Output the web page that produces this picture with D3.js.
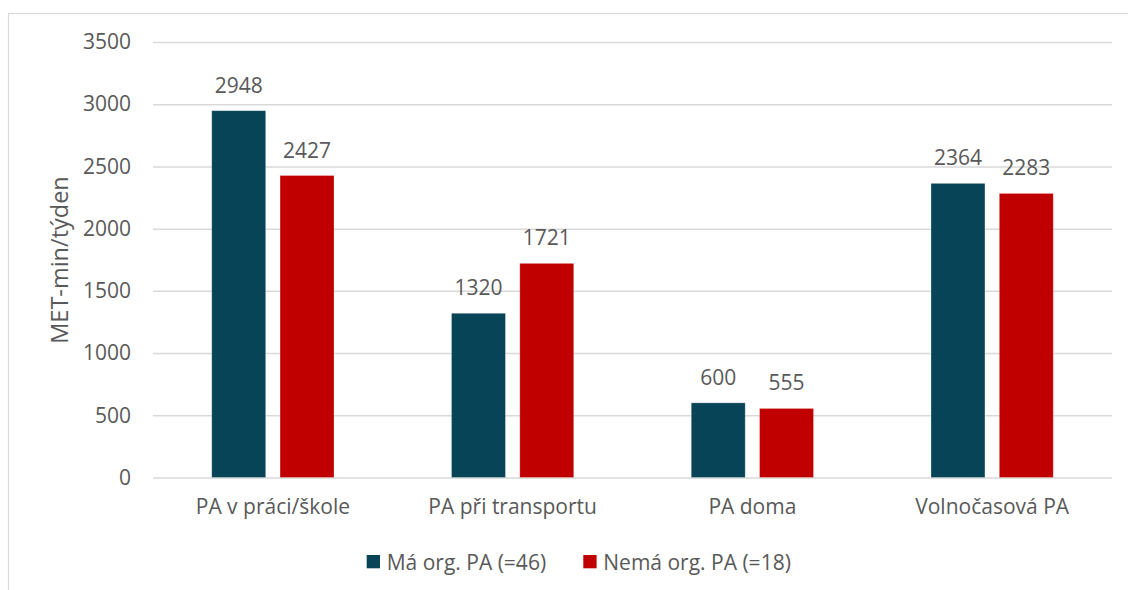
<!DOCTYPE html>
<html>
<head>
<meta charset="utf-8">
<script src="https://cdn.jsdelivr.net/npm/d3@7"></script>
<style>
  body { margin: 0; background: #fff; }
  text { font-family: "Open Sans", sans-serif; fill: #595959; }
</style>
</head>
<body>
<div id="chart"></div>
<script>
var categories = ["PA v práci/škole", "PA při transportu", "PA doma", "Volnočasová PA"];
var seriesNames = ["Má org. PA (=46)", "Nemá org. PA (=18)"];
var maValues = [2948, 1320, 600, 2364];
var nemaValues = [2427, 1721, 555, 2283];
var yTicks = [0, 500, 1000, 1500, 2000, 2500, 3000, 3500];
var colors = ["#084457", "#c00000"];

var width = 1128, height = 590;
var plot = {left: 153, right: 1112, top: 42, bottom: 477.5};

var svg = d3.select("#chart").append("svg")
    .attr("width", width)
    .attr("height", height);

// chart border
svg.append("rect")
    .attr("x", 8.5).attr("y", 13.5)
    .attr("width", 1200).attr("height", 700)
    .attr("fill", "none")
    .attr("stroke", "#d9d9d9")
    .attr("stroke-width", 1.2);

var x0 = d3.scaleBand()
    .domain(categories)
    .range([plot.left, plot.right])
    .padding(0);

var groupW = x0.bandwidth() * 0.51;
var x1 = d3.scaleBand()
    .domain(seriesNames)
    .range([0, groupW])
    .paddingInner(0.21);

var y = d3.scaleLinear()
    .domain([0, 3500])
    .range([plot.bottom, plot.top]);

// grid + tick labels
var yAxis = svg.append("g")
    .attr("class", "axis axis--y")
    .attr("transform", "translate(" + plot.left + ",0)")
    .call(d3.axisLeft(y)
        .tickValues(yTicks)
        .tickFormat(d3.format("d"))
        .tickSize(-(plot.right - plot.left))
        .tickPadding(22));
yAxis.select(".domain").remove();
yAxis.selectAll(".tick line")
    .attr("stroke", "#d9d9d9")
    .attr("stroke-width", 1.5);
yAxis.selectAll(".tick text")
    .attr("font-size", 21)
    .attr("font-family", "Open Sans, sans-serif")
    .attr("fill", "#595959");

// category labels
var xAxis = svg.append("g")
    .attr("class", "axis axis--x")
    .attr("transform", "translate(0," + plot.bottom + ")")
    .call(d3.axisBottom(x0).tickSize(0).tickPadding(22));
xAxis.select(".domain").remove();
xAxis.selectAll(".tick text")
    .attr("font-size", 21)
    .attr("font-family", "Open Sans, sans-serif")
    .attr("fill", "#595959");

var rows = categories.map(function(c, i) {
    return {cat: c, vals: [
        {name: seriesNames[0], value: maValues[i], color: colors[0]},
        {name: seriesNames[1], value: nemaValues[i], color: colors[1]}
    ]};
});

var groups = svg.append("g").selectAll("g")
    .data(rows)
    .enter().append("g")
    .attr("transform", function(d) {
        return "translate(" + (x0(d.cat) + (x0.bandwidth() - groupW) / 2) + ",0)";
    });

groups.selectAll("rect")
    .data(function(d) { return d.vals; })
    .enter().append("rect")
    .attr("x", function(d) { return x1(d.name); })
    .attr("y", function(d) { return y(d.value); })
    .attr("width", x1.bandwidth())
    .attr("height", function(d) { return plot.bottom - y(d.value); })
    .attr("fill", function(d) { return d.color; })
    .attr("stroke", "#ffffff")
    .attr("stroke-opacity", 0.35)
    .attr("stroke-width", 0.8);

groups.selectAll("text.lbl")
    .data(function(d) { return d.vals; })
    .enter().append("text")
    .attr("class", "lbl")
    .attr("x", function(d) { return x1(d.name) + x1.bandwidth() / 2; })
    .attr("y", function(d) { return y(d.value) - 18; })
    .attr("text-anchor", "middle")
    .attr("font-size", 21)
    .attr("fill", "#404040")
    .text(function(d) { return d.value; });

// y axis title
svg.append("text")
    .attr("transform", "translate(68,260) rotate(-90)")
    .attr("text-anchor", "middle")
    .attr("font-size", 23.5)
    .text("MET-min/týden");

// legend
var legendX = [366.7, 583.3];
var legend = svg.append("g").selectAll("g")
    .data(seriesNames)
    .enter().append("g")
    .attr("transform", function(d, i) { return "translate(" + legendX[i] + ",555)"; });
legend.append("rect")
    .attr("width", 13.3).attr("height", 13.3)
    .attr("fill", function(d, i) { return colors[i]; });
legend.append("text")
    .attr("x", 20)
    .attr("y", 15)
    .attr("font-size", 21)
    .text(function(d) { return d; });
</script>
</body>
</html>
